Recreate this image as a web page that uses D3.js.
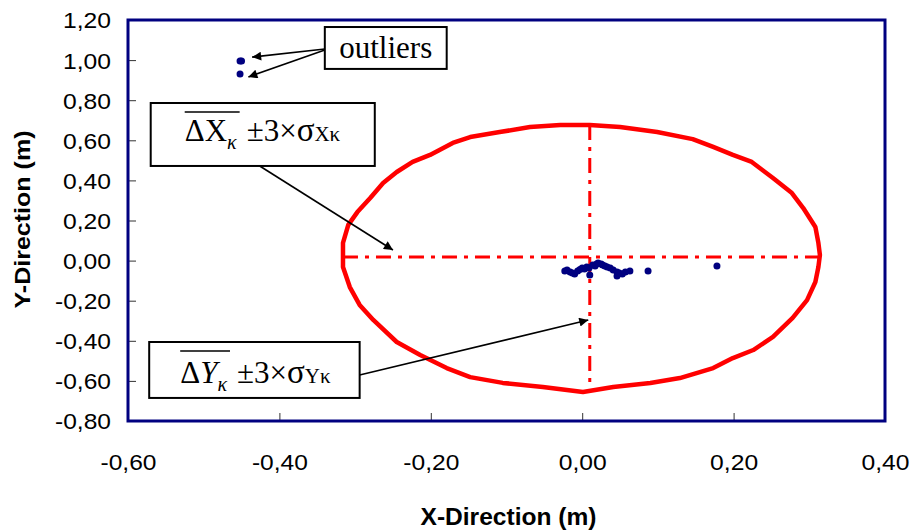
<!DOCTYPE html>
<html>
<head>
<meta charset="utf-8">
<script src="https://cdn.jsdelivr.net/npm/d3@7"></script>
<style>
body { margin: 0; background: #fff; }
</style>
</head>
<body>
<svg id="chart" width="914" height="531"></svg>
<script>

// tick values
var xTicks = [-0.6, -0.4, -0.2, 0.0, 0.2, 0.4]
var yTicks = [1.2, 1.0, 0.8, 0.6, 0.4, 0.2, 0.0, -0.2, -0.4, -0.6, -0.8]

// measured points (m)
var pointX = [-0.023, -0.020, -0.016, -0.013, -0.010, -0.006, -0.003, 0.000, 0.003, 0.006, 0.009, 0.010, 0.014, 0.017, 0.019, 0.021, 0.025, 0.027, 0.030, 0.033, 0.037, 0.041, 0.046, 0.046, 0.049, 0.053, 0.057, 0.063, 0.087, 0.178, -0.452, -0.450, -0.452]
var pointY = [-0.052, -0.047, -0.057, -0.062, -0.067, -0.052, -0.045, -0.037, -0.042, -0.032, -0.037, -0.072, -0.022, -0.027, -0.017, -0.012, -0.017, -0.022, -0.027, -0.032, -0.037, -0.047, -0.057, -0.077, -0.062, -0.067, -0.057, -0.052, -0.052, -0.027, 0.995, 0.996, 0.931]

// 3 sigma ellipse
var ellipseX = [0.010, -0.029, -0.069, -0.109, -0.148, -0.171, -0.201, -0.224, -0.245, -0.263, -0.280, -0.297, -0.309, -0.316, -0.316, -0.307, -0.294, -0.276, -0.245, -0.214, -0.179, -0.148, -0.105, -0.052, 0.001, 0.041, 0.090, 0.129, 0.173, 0.199, 0.226, 0.252, 0.278, 0.297, 0.308, 0.312, 0.314, 0.312, 0.308, 0.292, 0.277, 0.252, 0.224, 0.199, 0.173, 0.146, 0.099, 0.050]
var ellipseY = [0.676, 0.676, 0.666, 0.641, 0.616, 0.587, 0.527, 0.492, 0.442, 0.387, 0.312, 0.242, 0.178, 0.088, -0.032, -0.132, -0.221, -0.296, -0.406, -0.471, -0.536, -0.581, -0.610, -0.630, -0.655, -0.630, -0.610, -0.586, -0.536, -0.486, -0.446, -0.381, -0.286, -0.197, -0.107, -0.032, 0.028, 0.088, 0.168, 0.262, 0.337, 0.412, 0.492, 0.527, 0.567, 0.606, 0.641, 0.666]

// mean lines
var meanX = 0.010
var meanY = 0.018
var crossX = [-0.316, 0.314]
var crossY = [0.676, -0.655]

var dimensions = {
    width: 914,
    height: 531,
    margin: {
        top: 20,
        bottom: 110,
        right: 29,
        left: 128
    }
}
dimensions.boundedWidth = dimensions.width - dimensions.margin.left - dimensions.margin.right
dimensions.boundedHeight = dimensions.height - dimensions.margin.top - dimensions.margin.bottom

var fmt = function (d) {
    return (d < -1e-9 ? "-" : "") + Math.abs(d).toFixed(2).replace(".", ",")
}

var svg = d3.select("#chart")

var xScale = d3.scaleLinear()
    .domain([-0.6, 0.4])
    .range([dimensions.margin.left, dimensions.margin.left + dimensions.boundedWidth])

var yScale = d3.scaleLinear()
    .domain([-0.8, 1.2])
    .range([dimensions.margin.top + dimensions.boundedHeight, dimensions.margin.top])

var bottom = dimensions.margin.top + dimensions.boundedHeight

// axes, ticks point inward
var xAxis = svg.append("g")
    .attr("transform", "translate(0," + bottom + ")")
    .call(d3.axisBottom(xScale).tickValues(xTicks).tickSizeInner(-8).tickSizeOuter(0).tickPadding(33).tickFormat(fmt))
var yAxis = svg.append("g")
    .attr("transform", "translate(" + dimensions.margin.left + ",0)")
    .call(d3.axisLeft(yScale).tickValues(yTicks).tickSizeInner(-8).tickSizeOuter(0).tickPadding(17).tickFormat(fmt))

svg.selectAll(".domain").remove()
svg.selectAll(".tick line").attr("stroke", "#333").attr("stroke-width", 1)
svg.selectAll(".tick text")
    .attr("fill", "#000")
    .style("font-family", "'Liberation Sans', Arial, sans-serif")
    .style("font-size", "22px")
    .attr("textLength", function (d) { return d < -1e-9 ? 56 : 48 })
    .attr("lengthAdjust", "spacingAndGlyphs")
yAxis.selectAll(".tick text").attr("dy", "0.36em")

// frame
svg.append("rect")
    .attr("x", dimensions.margin.left)
    .attr("y", dimensions.margin.top)
    .attr("width", dimensions.boundedWidth)
    .attr("height", dimensions.boundedHeight)
    .attr("fill", "none")
    .attr("stroke", "#000080")
    .attr("stroke-width", 3)

// axis titles
svg.append("text")
    .attr("x", xScale(-0.1) + 2)
    .attr("y", 525)
    .attr("text-anchor", "middle")
    .attr("textLength", 176)
    .attr("lengthAdjust", "spacingAndGlyphs")
    .style("font-family", "'Liberation Sans', Arial, sans-serif")
    .style("font-weight", "bold")
    .style("font-size", "23px")
    .text("X-Direction (m)")

svg.append("text")
    .attr("transform", "translate(30," + (yScale(0.2) - 1) + ") rotate(-90)")
    .attr("text-anchor", "middle")
    .attr("textLength", 178)
    .attr("lengthAdjust", "spacingAndGlyphs")
    .style("font-family", "'Liberation Sans', Arial, sans-serif")
    .style("font-weight", "bold")
    .style("font-size", "22px")
    .text("Y-Direction (m)")

// ellipse
var ellipsePts = ellipseX.map(function (d, i) { return [d, ellipseY[i]] })
svg.append("path")
    .datum(ellipsePts)
    .attr("d", d3.line().x(d => xScale(d[0])).y(d => yScale(d[1])).curve(d3.curveLinearClosed))
    .attr("fill", "none")
    .attr("stroke", "#ff0000")
    .attr("stroke-width", 4.5)
    .attr("stroke-linejoin", "round")

// mean cross, dash dot
svg.append("line")
    .attr("x1", xScale(crossX[0])).attr("x2", xScale(crossX[1]))
    .attr("y1", yScale(meanY)).attr("y2", yScale(meanY))
    .attr("stroke", "#ff0000").attr("stroke-width", 3)
    .attr("stroke-dasharray", "15,7,4,7")
svg.append("line")
    .attr("x1", xScale(meanX)).attr("x2", xScale(meanX))
    .attr("y1", yScale(crossY[0])).attr("y2", yScale(crossY[1]))
    .attr("stroke", "#ff0000").attr("stroke-width", 3)
    .attr("stroke-dasharray", "15,7,4,7")

// points
svg.selectAll("circle.pt")
    .data(pointX)
    .enter()
    .append("circle")
    .attr("class", "pt")
    .attr("cx", d => xScale(d))
    .attr("cy", (d, i) => yScale(pointY[i]))
    .attr("r", 3.5)
    .attr("fill", "#000080")

// annotations
svg.append("defs").append("marker")
    .attr("id", "arrow")
    .attr("viewBox", "0 0 10 10")
    .attr("refX", 10).attr("refY", 5)
    .attr("markerWidth", 13).attr("markerHeight", 9)
    .attr("markerUnits", "userSpaceOnUse")
    .attr("orient", "auto")
    .append("path")
    .attr("d", "M0,0 L10,5 L0,10 Z")
    .attr("fill", "#000")

var arrows = [
    [-0.340, 1.055, -0.436, 1.015],
    [-0.340, 1.050, -0.441, 0.916],
    [-0.426, 0.472, -0.250, 0.053],
    [-0.294, -0.571, 0.008, -0.296]
]
svg.selectAll("line.arrow")
    .data(arrows)
    .enter()
    .append("line")
    .attr("class", "arrow")
    .attr("x1", d => xScale(d[0])).attr("y1", d => yScale(d[1]))
    .attr("x2", d => xScale(d[2])).attr("y2", d => yScale(d[3]))
    .attr("stroke", "#000").attr("stroke-width", 1.6)
    .attr("marker-end", "url(#arrow)")

var drawBox = function (x0, y0, x1, y1) {
    svg.append("rect")
        .attr("x", xScale(x0)).attr("y", yScale(y0))
        .attr("width", xScale(x1) - xScale(x0))
        .attr("height", yScale(y1) - yScale(y0))
        .attr("fill", "#fff")
        .attr("stroke", "#000")
        .attr("stroke-width", 2)
}

var serif = "'Liberation Serif', 'Times New Roman', serif"

drawBox(-0.340, 1.165, -0.179, 0.956)
svg.append("text")
    .attr("x", (xScale(-0.340) + xScale(-0.179)) / 2)
    .attr("y", yScale(1.165) + 31)
    .attr("text-anchor", "middle")
    .style("font-family", serif)
    .style("font-size", "31px")
    .text("outliers")

// mean +- 3 sigma labels
var sigmaLabel = function (x0, y0, x1, y1, letter, italic, padLeft, base) {
    drawBox(x0, y0, x1, y1)
    var left = xScale(x0) + padLeft
    var top = yScale(y0)
    var a = svg.append("text")
        .attr("x", left)
        .attr("y", top + base)
        .style("font-family", serif)
        .style("font-size", "31px")
    a.append("tspan").text("Δ")
    a.append("tspan").style("font-style", italic ? "italic" : "normal").text(letter)
    a.append("tspan").attr("dy", 8).style("font-style", "italic").style("font-size", "20px").text("κ")
    var w = a.node().getComputedTextLength()
    svg.append("line")
        .attr("x1", left).attr("x2", left + w + 3)
        .attr("y1", top + 9).attr("y2", top + 9)
        .attr("stroke", "#000").attr("stroke-width", 1.5)
    var b = svg.append("text")
        .attr("x", left + w + 10)
        .attr("y", top + base)
        .style("font-family", serif)
        .style("font-size", "31px")
    b.append("tspan").text("±3×")
    b.append("tspan").style("font-size", "33px").text("σ")
    b.append("tspan").style("font-size", "21px").text(letter + "κ")
}

sigmaLabel(-0.570, 0.786, -0.274, 0.472, "X", false, 34, 38)
sigmaLabel(-0.572, -0.406, -0.294, -0.685, "Y", true, 31, 41)

</script>
</body>
</html>
